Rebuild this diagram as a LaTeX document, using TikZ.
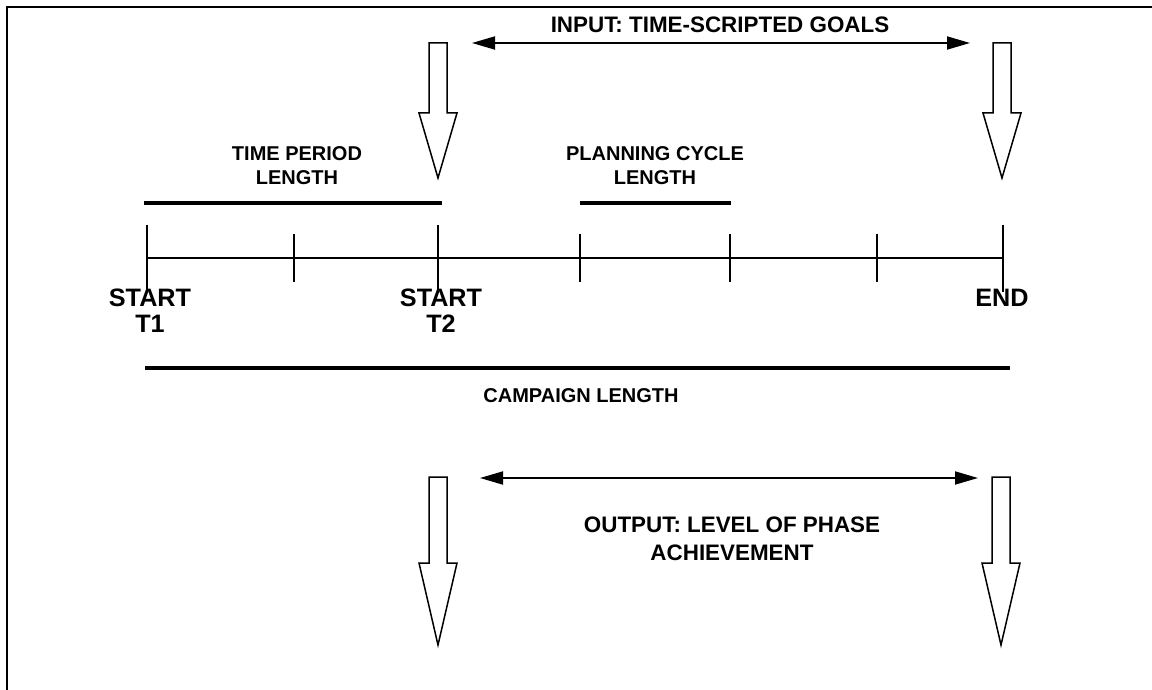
\documentclass[tikz,border=0pt]{standalone}
\usepackage{fontspec}
\setmainfont{Liberation Sans}
\usetikzlibrary{arrows.meta}
\begin{document}
\begin{tikzpicture}[x=0.5pt,y=-0.5pt,
  frame/.style={line width=1.1pt},
  axis/.style={line width=0.75pt},
  bigtick/.style={line width=0.75pt},
  span/.style={line width=1.6pt},
  dbl/.style={line width=0.9pt,{Triangle[length=11.5pt,width=6.5pt]}-{Triangle[length=11.5pt,width=6.5pt]}},
  blockarrow/.style={line width=0.75pt,line join=miter},
  lab/.style={font=\bfseries\fontsize{10}{12}\selectfont,align=center,inner sep=0pt},
  biglab/.style={font=\bfseries\fontsize{12.6}{13}\selectfont,align=center,inner sep=0pt},
  midlab/.style={font=\bfseries\fontsize{11.2}{14}\selectfont,align=center,inner sep=0pt}]
\useasboundingbox (0,0) rectangle (1152,690);
% frame (top and left edges)
\draw[frame] (7,690) -- (7,7) -- (1152,7);
% timeline
\coordinate (t0) at (147,258);
\coordinate (t6) at (1003,258);
\draw[axis] (t0) -- (t6);
\foreach \x in {147,438,1003} \draw[bigtick] (\x,225) -- (\x,292);
\foreach \x in {294,580,730,877} \draw[bigtick] (\x,234) -- (\x,282);
% spans
\coordinate (tpA) at (144,203); \coordinate (tpB) at (442,203);
\draw[span] (tpA) -- (tpB);
\coordinate (pcA) at (580,203); \coordinate (pcB) at (731,203);
\draw[span] (pcA) -- (pcB);
\coordinate (cA) at (145,368); \coordinate (cB) at (1010,368);
\draw[span] (cA) -- (cB);
% labels
\node[lab] (tpl) at (297,166) {TIME PERIOD\\LENGTH};
\node[lab] (pcl) at (655,166) {PLANNING CYCLE\\LENGTH};
\node[lab] (cl) at (581,396) {CAMPAIGN LENGTH};
\node[biglab] (s1) at (150,311) {START\\T1};
\node[biglab] (s2) at (441,311) {START\\T2};
\node[biglab,anchor=center] (e) at (1002,298) {END};
% input double arrow
\coordinate (inA) at (472,43); \coordinate (inB) at (970,43);
\draw[dbl] (inA) -- (inB);
\node[midlab] (inl) at (720,25) {INPUT: TIME-SCRIPTED GOALS};
% output double arrow
\coordinate (outA) at (480,478); \coordinate (outB) at (978,478);
\draw[dbl] (outA) -- (outB);
\node[midlab] (outl) at (732,539) {OUTPUT: LEVEL OF PHASE\\ACHIEVEMENT};
% block arrows (top)
\foreach \c in {438,1002}
  \draw[blockarrow] (\c-9,43) -- (\c+9,43) -- (\c+9,113) -- (\c+19,113) -- (\c,178) -- (\c-19,113) -- (\c-9,113) -- cycle;
% block arrows (bottom)
\foreach \c in {438,1001}
  \draw[blockarrow] (\c-9,477) -- (\c+9,477) -- (\c+9,563) -- (\c+19,563) -- (\c,645) -- (\c-19,563) -- (\c-9,563) -- cycle;
\end{tikzpicture}
\end{document}
